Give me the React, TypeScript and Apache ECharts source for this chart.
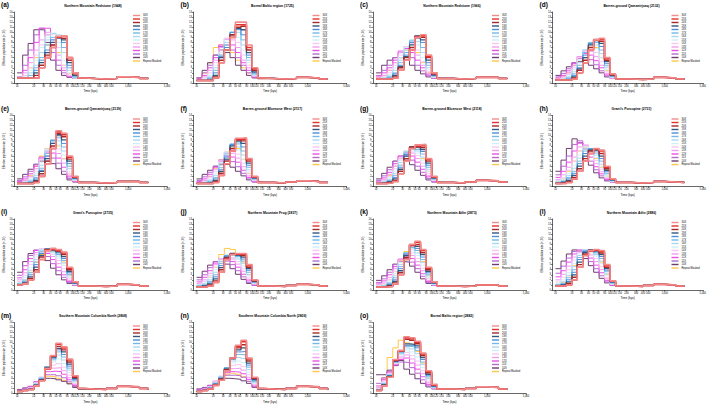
import React, { useEffect, useRef } from "react";
import * as echarts from "echarts";

const SERIES_NAMES = ["30X", "25X", "20X", "19X", "18X", "17X", "16X", "15X", "14X", "13X", "12X", "11X", "10X", "Repeat Masked"];
const COLORS = ["#f28b8b", "#e8302a", "#a52a2a", "#34577f", "#4a90d9", "#74b9e8", "#a8d8f0", "#cfeef8", "#f7c8f2", "#f29cf0", "#ec4fe8", "#b56ad0", "#6e3d6e", "#ffc84a"];
const WIDTHS = [1.6, 1.6, 1.4, 1.3, 1, 1, 1, 1, 1, 1, 1, 1, 1, 1];

const TIME_HEAD = [10, 12.6, 15.8, 20, 25, 31.6, 40, 50, 63, 79, 100, 126];
const TIME_TAIL = [160, 250, 400, 630, 1000, 1600, 2300];
const X_TICKS = [10, 20, 30, 40, 50, 60, 80, 100, 120, 150, 200, 300, 400, 500, 1000, 5000];

const PANEL_LABELS = ["(a)", "(b)", "(c)", "(d)", "(e)", "(f)", "(g)", "(h)", "(i)", "(j)", "(k)", "(l)", "(m)", "(n)", "(o)"];
const PANEL_TITLES = [
  "Northern Mountain Redstone (1948)",
  "Boreal Baltic region (1725)",
  "Northern Mountain Redstone (1966)",
  "Barren-ground Qamanirjuaq (2132)",
  "Barren-ground Qamanirjuaq (2139)",
  "Barren-ground Bluenose West (2117)",
  "Barren-ground Bluenose West (2118)",
  "Grant's Porcupine (2731)",
  "Grant's Porcupine (2735)",
  "Northern Mountain Frog (2837)",
  "Northern Mountain Atlin (2873)",
  "Northern Mountain Atlin (2886)",
  "Southern Mountain Columbia North (2808)",
  "Southern Mountain Columbia North (2809)",
  "Boreal Baltic region (2882)",
];

const NE_A = [
  [1, 1, 1, 1, 3, 5, 7, 9.2, 9.3, 5, 2, 1],
  [1, 1, 1, 1, 3, 5, 7, 9, 9.2, 5, 2, 1],
  [1, 1, 1, 1.5, 3.5, 5.5, 7.5, 9, 8.8, 4.5, 1.8, 1],
  [1, 1, 1, 2, 4, 6, 8, 9, 8.5, 4, 1.5, 0.9],
  [1, 1, 1, 2.5, 4.5, 6.5, 8.5, 8.8, 8, 3.5, 1.4, 0.9],
  [1, 1, 1.5, 3, 5, 7.5, 9, 8.8, 7, 3, 1.2, 0.9],
  [1, 1, 2, 3.5, 6, 8.5, 9.8, 9.5, 6, 2.5, 1.1, 0.9],
  [1, 1.2, 2.5, 4.5, 7, 9, 9.8, 8, 4.5, 2, 1, 0.9],
  [1, 1.5, 3, 5.5, 7.5, 9.5, 9.5, 7, 3.5, 1.6, 1, 0.9],
  [1, 2, 4, 6.5, 8.5, 10, 8.5, 5.5, 3, 1.4, 1, 0.9],
  [1, 2.5, 5, 8, 10.8, 10.8, 7.5, 4.5, 2.5, 1.3, 1, 0.9],
  [1.2, 3.5, 6.5, 9.5, 10.8, 9.5, 6, 3.5, 2, 1.2, 0.9, 0.9],
  [2, 5.5, 7.8, 10.5, 10.5, 8, 4.5, 2.5, 1.5, 1.1, 0.9, 0.9],
  [1, 1.5, 3, 5, 7, 7.5, 7, 6, 3.5, 1.8, 1, 0.9],
];
const NE_B = [
  [0.5, 0.5, 0.5, 1, 4, 6.5, 9, 12, 12, 7.5, 3, 1],
  [0.5, 0.5, 0.5, 1, 4, 6.5, 9, 11.5, 11.5, 7, 2.8, 1],
  [0.5, 0.5, 0.5, 1.2, 4.5, 6.5, 9.5, 11, 11.2, 6.5, 2.5, 0.9],
  [0.5, 0.5, 0.6, 1.5, 5, 6.5, 9.5, 10.8, 10.5, 6, 2.2, 0.9],
  [0.5, 0.5, 0.8, 2, 5.2, 7, 10, 10.6, 9.5, 5.5, 2, 0.9],
  [0.5, 0.5, 1, 2.5, 5.5, 7.5, 10, 10.5, 8.5, 5, 1.8, 0.9],
  [0.5, 0.6, 1.2, 3, 5.5, 8, 10, 10, 7.5, 4.5, 1.6, 0.9],
  [0.5, 0.8, 1.5, 3.5, 6, 8.5, 9.5, 9, 6.5, 4, 1.5, 0.9],
  [0.5, 1, 2, 4, 6.5, 8.8, 9, 8, 5.5, 3.5, 1.4, 0.9],
  [0.6, 1.2, 2.5, 4.5, 7, 8.8, 8.5, 7, 4.5, 3, 1.3, 0.9],
  [0.8, 1.5, 3, 5, 7.5, 8.6, 7.5, 6, 4, 2.5, 1.2, 0.9],
  [1, 2, 3.5, 5.5, 7.2, 7.5, 6.5, 5, 3.5, 2, 1.1, 0.9],
  [1, 2.5, 4, 5.5, 6.5, 6, 5, 3.5, 2.5, 1.5, 1, 0.9],
  [1, 2, 4, 7, 7.5, 7, 6, 4.5, 3, 2, 1.1, 0.9],
];
const NE_C = [
  [0.8, 0.8, 0.8, 1, 2.5, 4.5, 6.5, 9, 9.5, 5.5, 2, 0.9],
  [0.8, 0.8, 0.8, 1, 2.5, 4.5, 6.5, 9, 9.3, 5.2, 1.9, 0.9],
  [0.8, 0.8, 0.8, 1.2, 3, 5, 7, 9.2, 9, 5, 1.8, 0.9],
  [0.8, 0.8, 0.9, 1.5, 3.2, 5.2, 7.5, 9.3, 8.5, 4.5, 1.6, 0.9],
  [0.8, 0.8, 1, 1.8, 3.5, 5.5, 8, 9.2, 8, 4, 1.5, 0.9],
  [0.8, 0.9, 1.2, 2, 4, 6, 8.3, 8.8, 7, 3.5, 1.4, 0.9],
  [0.8, 1, 1.4, 2.5, 4.5, 6.5, 8.5, 8.2, 6, 3, 1.3, 0.9],
  [0.8, 1.1, 1.6, 3, 5, 7, 8.2, 7.5, 5, 2.6, 1.2, 0.9],
  [0.9, 1.2, 2, 3.5, 5.5, 7.2, 7.8, 6.5, 4.2, 2.2, 1.1, 0.9],
  [1, 1.5, 2.5, 4, 6, 7.2, 7, 5.5, 3.5, 1.9, 1, 0.9],
  [1.2, 2, 3, 4.5, 6.3, 6.8, 6, 4.5, 3, 1.6, 1, 0.9],
  [1.5, 2.5, 3.5, 5, 6, 6, 5, 3.5, 2.4, 1.4, 1, 0.9],
  [2, 3.5, 4.5, 5, 5, 4.5, 3.5, 2.5, 1.8, 1.2, 0.9, 0.9],
  [1, 1.5, 2.5, 4, 6, 6.5, 6.5, 6, 4, 2, 1.1, 0.9],
];
const NE_D = [
  [0.6, 0.6, 0.6, 0.8, 2, 4, 6.5, 8.5, 8.8, 5, 1.8, 0.8],
  [0.6, 0.6, 0.6, 0.8, 2, 4, 6.5, 8.5, 8.6, 4.8, 1.7, 0.8],
  [0.6, 0.6, 0.6, 1, 2.5, 4.5, 7, 8.6, 8.2, 4.5, 1.6, 0.8],
  [0.6, 0.6, 0.7, 1.2, 2.8, 5, 7.5, 8.5, 7.8, 4.2, 1.5, 0.8],
  [0.6, 0.6, 0.8, 1.5, 3, 5.5, 7.8, 8.3, 7.2, 3.8, 1.4, 0.8],
  [0.6, 0.7, 1, 1.8, 3.5, 6, 8, 8, 6.5, 3.4, 1.3, 0.8],
  [0.6, 0.8, 1.2, 2.2, 4, 6.5, 7.8, 7.5, 5.8, 3, 1.2, 0.8],
  [0.6, 0.9, 1.4, 2.6, 4.5, 6.6, 7.5, 6.8, 5, 2.6, 1.1, 0.8],
  [0.7, 1, 1.7, 3, 5, 6.6, 7, 6, 4.2, 2.2, 1, 0.8],
  [0.8, 1.2, 2, 3.4, 5.2, 6.3, 6.2, 5.2, 3.5, 1.9, 1, 0.8],
  [1, 1.5, 2.4, 3.8, 5.2, 5.8, 5.5, 4.4, 3, 1.6, 0.9, 0.8],
  [1.2, 1.9, 2.8, 4, 4.8, 5, 4.6, 3.6, 2.4, 1.4, 0.9, 0.8],
  [1.5, 2.4, 3.2, 4, 4.2, 4, 3.5, 2.8, 2, 1.2, 0.9, 0.8],
  [0.8, 1.2, 2, 3.5, 5, 6.5, 7.5, 7, 5, 2.5, 1.1, 0.8],
];
const NE_E = [
  [0.6, 0.6, 0.6, 0.8, 2, 4.5, 7.5, 11, 10.5, 6, 2, 0.8],
  [0.6, 0.6, 0.6, 0.8, 2, 4.5, 7.5, 10.8, 10.2, 5.8, 1.9, 0.8],
  [0.6, 0.6, 0.6, 1, 2.5, 5, 8, 10.5, 9.8, 5.4, 1.8, 0.8],
  [0.6, 0.6, 0.7, 1.2, 3, 5.5, 8.5, 10.2, 9.2, 5, 1.7, 0.8],
  [0.6, 0.6, 0.8, 1.5, 3.2, 6, 9, 10, 8.5, 4.5, 1.6, 0.8],
  [0.6, 0.7, 1, 1.8, 3.6, 6.5, 9.2, 9.6, 7.8, 4, 1.5, 0.8],
  [0.6, 0.8, 1.2, 2.2, 4.2, 7, 9, 9, 7, 3.5, 1.4, 0.8],
  [0.6, 0.9, 1.4, 2.6, 4.8, 7.3, 8.6, 8.2, 6.2, 3, 1.3, 0.8],
  [0.7, 1, 1.7, 3, 5.3, 7.4, 8, 7.4, 5.4, 2.6, 1.2, 0.8],
  [0.8, 1.2, 2, 3.5, 5.6, 7.2, 7.4, 6.5, 4.6, 2.2, 1.1, 0.8],
  [1, 1.5, 2.5, 4, 5.8, 6.8, 6.6, 5.6, 3.8, 1.9, 1, 0.8],
  [1.2, 1.9, 3, 4.3, 5.6, 6, 5.6, 4.6, 3, 1.6, 0.9, 0.8],
  [1.5, 2.4, 3.4, 4.4, 5, 5, 4.5, 3.5, 2.4, 1.3, 0.9, 0.8],
  [0.8, 1.2, 2.2, 4, 6, 7.5, 8.5, 8, 5.5, 2.5, 1.1, 0.8],
];
const NE_F = [
  [0.6, 0.6, 0.6, 0.8, 2.2, 4.5, 7, 9.5, 9.6, 5.5, 2, 0.8],
  [0.6, 0.6, 0.6, 0.8, 2.2, 4.5, 7, 9.3, 9.4, 5.3, 1.9, 0.8],
  [0.6, 0.6, 0.6, 1, 2.6, 5, 7.5, 9.2, 9, 5, 1.8, 0.8],
  [0.6, 0.6, 0.7, 1.2, 3, 5.4, 8, 9, 8.5, 4.6, 1.7, 0.8],
  [0.6, 0.6, 0.8, 1.5, 3.3, 5.8, 8.3, 8.8, 7.8, 4.2, 1.6, 0.8],
  [0.6, 0.7, 1, 1.8, 3.7, 6.2, 8.4, 8.4, 7, 3.8, 1.5, 0.8],
  [0.6, 0.8, 1.2, 2.2, 4.2, 6.6, 8.2, 7.8, 6.2, 3.3, 1.4, 0.8],
  [0.6, 0.9, 1.4, 2.6, 4.7, 6.8, 7.8, 7.2, 5.4, 2.9, 1.3, 0.8],
  [0.7, 1, 1.7, 3, 5, 6.8, 7.3, 6.4, 4.6, 2.5, 1.2, 0.8],
  [0.8, 1.2, 2, 3.4, 5.2, 6.5, 6.6, 5.6, 3.9, 2.1, 1.1, 0.8],
  [1, 1.5, 2.4, 3.8, 5.2, 6, 5.8, 4.8, 3.2, 1.8, 1, 0.8],
  [1.2, 1.9, 2.8, 4, 4.9, 5.2, 4.9, 3.9, 2.6, 1.5, 0.9, 0.8],
  [1.5, 2.4, 3.2, 4, 4.4, 4.3, 3.8, 3, 2.1, 1.3, 0.9, 0.8],
  [0.8, 1.2, 2, 3.6, 5.3, 6.8, 7.8, 7.5, 5.3, 2.6, 1.1, 0.8],
];
const NE_G = [
  [0.6, 0.6, 0.7, 1, 2.5, 5, 7.5, 8.2, 8.3, 5.5, 2, 0.8],
  [0.6, 0.6, 0.7, 1, 2.5, 5, 7.5, 8, 8.1, 5.3, 1.9, 0.8],
  [0.6, 0.6, 0.8, 1.2, 3, 5.5, 7.8, 7.9, 7.7, 5, 1.8, 0.8],
  [0.6, 0.7, 0.9, 1.5, 3.4, 6, 7.8, 7.8, 7.3, 4.6, 1.7, 0.8],
  [0.6, 0.7, 1, 1.8, 3.8, 6.3, 7.7, 7.6, 6.9, 4.2, 1.6, 0.8],
  [0.6, 0.8, 1.2, 2.2, 4.2, 6.6, 7.6, 7.3, 6.4, 3.8, 1.5, 0.8],
  [0.7, 0.9, 1.4, 2.6, 4.7, 6.9, 7.5, 7, 5.8, 3.4, 1.4, 0.8],
  [0.7, 1, 1.7, 3, 5.1, 7, 7.3, 6.6, 5.2, 3, 1.3, 0.8],
  [0.8, 1.2, 2, 3.5, 5.5, 7, 7, 6.1, 4.6, 2.6, 1.2, 0.8],
  [0.9, 1.4, 2.4, 4, 5.8, 6.8, 6.6, 5.5, 4, 2.2, 1.1, 0.8],
  [1, 1.7, 2.8, 4.5, 6, 6.6, 6, 4.8, 3.4, 1.9, 1, 0.8],
  [1.2, 2.1, 3.3, 5, 6, 6, 5.2, 4, 2.8, 1.6, 0.9, 0.8],
  [1.5, 2.6, 3.8, 5, 5.5, 5.2, 4.3, 3.2, 2.2, 1.3, 0.9, 0.8],
  [0.8, 1.2, 2.2, 4, 6, 7, 7.5, 7.3, 5.5, 3, 1.2, 0.8],
];
const NE_H = [
  [0.6, 0.6, 0.8, 1.5, 3, 5, 6.5, 7.5, 7.2, 4, 1.5, 0.8],
  [0.6, 0.6, 0.8, 1.5, 3, 5, 6.5, 7.4, 7, 3.8, 1.5, 0.8],
  [0.6, 0.7, 1, 1.8, 3.5, 5.5, 7, 7.4, 6.5, 3.5, 1.4, 0.8],
  [0.6, 0.8, 1.2, 2.2, 4, 6, 7.2, 7.2, 6, 3.2, 1.3, 0.8],
  [0.7, 0.9, 1.5, 2.6, 4.5, 6.5, 7.4, 7, 5.5, 2.9, 1.2, 0.8],
  [0.8, 1, 1.8, 3, 5, 7, 7.5, 6.6, 5, 2.6, 1.2, 0.8],
  [0.9, 1.2, 2.2, 3.6, 5.6, 7.4, 7.4, 6.2, 4.4, 2.3, 1.1, 0.8],
  [1, 1.5, 2.6, 4.2, 6.2, 7.8, 7.2, 5.7, 3.9, 2, 1, 0.8],
  [1.2, 1.8, 3.2, 5, 7, 8, 6.8, 5.1, 3.4, 1.8, 1, 0.8],
  [1.4, 2.3, 3.8, 5.8, 7.8, 8.2, 6.4, 4.5, 2.9, 1.6, 0.9, 0.8],
  [1.8, 3, 4.8, 7, 8.6, 8, 5.8, 3.9, 2.5, 1.4, 0.9, 0.8],
  [2.3, 4, 6, 8.3, 9, 7.4, 5, 3.3, 2.1, 1.2, 0.9, 0.8],
  [3, 5.2, 7.5, 9.4, 8.6, 6.5, 4.2, 2.7, 1.7, 1.1, 0.9, 0.8],
  [1, 1.5, 3, 5, 7, 7.6, 7, 5.5, 3.8, 2, 1, 0.8],
];
const NE_I = [
  [1, 1.2, 2, 3.5, 6, 7.8, 8.2, 8, 7.5, 4.5, 1.6, 0.8],
  [1, 1.2, 2, 3.5, 6, 7.8, 8, 7.8, 7.3, 4.3, 1.6, 0.8],
  [1, 1.3, 2.3, 4, 6.5, 8, 8, 7.7, 7, 4, 1.5, 0.8],
  [1, 1.4, 2.6, 4.5, 6.8, 8, 7.9, 7.5, 6.6, 3.7, 1.4, 0.8],
  [1.1, 1.6, 3, 5, 7.2, 8.1, 7.8, 7.3, 6.2, 3.4, 1.3, 0.8],
  [1.2, 1.8, 3.4, 5.5, 7.5, 8.1, 7.7, 7, 5.8, 3.1, 1.3, 0.8],
  [1.3, 2.1, 3.9, 6, 7.8, 8, 7.5, 6.7, 5.3, 2.8, 1.2, 0.8],
  [1.5, 2.5, 4.4, 6.5, 8, 7.9, 7.3, 6.3, 4.8, 2.5, 1.1, 0.8],
  [1.7, 2.9, 5, 7, 8.1, 7.7, 7, 5.8, 4.2, 2.2, 1.1, 0.8],
  [2, 3.4, 5.6, 7.4, 8.1, 7.5, 6.6, 5.2, 3.6, 1.9, 1, 0.8],
  [2.4, 4, 6.2, 7.8, 8, 7.2, 6, 4.5, 3, 1.7, 1, 0.8],
  [2.9, 4.8, 6.8, 7.9, 7.7, 6.6, 5.2, 3.8, 2.5, 1.5, 0.9, 0.8],
  [3.5, 5.6, 7.2, 7.8, 7.2, 5.8, 4.3, 3, 2, 1.3, 0.9, 0.8],
  [1.2, 2, 3.5, 5.5, 7, 7.6, 7.6, 7, 5.5, 3, 1.2, 0.8],
];
const NE_J = [
  [0.6, 0.6, 0.8, 1.5, 3.5, 6, 7, 7.2, 7.2, 5, 2, 0.8],
  [0.6, 0.6, 0.8, 1.5, 3.5, 6, 7, 7.1, 7, 4.8, 1.9, 0.8],
  [0.6, 0.7, 1, 1.8, 4, 6.3, 7.1, 7, 6.8, 4.5, 1.8, 0.8],
  [0.6, 0.8, 1.2, 2.2, 4.4, 6.5, 7.2, 6.9, 6.5, 4.2, 1.7, 0.8],
  [0.7, 0.9, 1.4, 2.6, 4.8, 6.7, 7.1, 6.8, 6.1, 3.9, 1.6, 0.8],
  [0.8, 1, 1.7, 3, 5.2, 6.8, 7, 6.6, 5.7, 3.5, 1.5, 0.8],
  [0.9, 1.2, 2, 3.5, 5.6, 6.9, 6.9, 6.3, 5.2, 3.1, 1.4, 0.8],
  [1, 1.4, 2.4, 4, 5.9, 6.8, 6.7, 6, 4.7, 2.8, 1.3, 0.8],
  [1.1, 1.7, 2.8, 4.5, 6.1, 6.7, 6.4, 5.6, 4.2, 2.4, 1.2, 0.8],
  [1.3, 2, 3.3, 5, 6.2, 6.5, 6.1, 5.1, 3.7, 2.1, 1.1, 0.8],
  [1.6, 2.5, 3.8, 5.3, 6.2, 6.2, 5.6, 4.5, 3.1, 1.8, 1, 0.8],
  [2, 3, 4.4, 5.6, 6, 5.7, 5, 3.8, 2.6, 1.5, 0.9, 0.8],
  [2.5, 3.7, 4.9, 5.6, 5.6, 5.1, 4.2, 3.1, 2.1, 1.3, 0.9, 0.8],
  [0.8, 1.2, 2.5, 4.5, 7, 8.2, 8, 7, 5.5, 3, 1.2, 0.8],
];
const NE_K = [
  [0.6, 0.6, 0.7, 1.2, 3, 6, 9, 9.6, 8, 4.5, 1.6, 0.8],
  [0.6, 0.6, 0.7, 1.2, 3, 6, 8.8, 9.4, 7.8, 4.3, 1.6, 0.8],
  [0.6, 0.6, 0.8, 1.4, 3.4, 6.4, 8.9, 9, 7.4, 4, 1.5, 0.8],
  [0.6, 0.7, 0.9, 1.7, 3.8, 6.8, 8.8, 8.6, 7, 3.7, 1.4, 0.8],
  [0.6, 0.7, 1.1, 2, 4.2, 7.1, 8.7, 8.2, 6.5, 3.4, 1.3, 0.8],
  [0.7, 0.8, 1.3, 2.4, 4.6, 7.3, 8.4, 7.8, 6, 3.1, 1.3, 0.8],
  [0.7, 0.9, 1.5, 2.8, 5, 7.4, 8.1, 7.3, 5.4, 2.8, 1.2, 0.8],
  [0.8, 1, 1.8, 3.2, 5.4, 7.4, 7.7, 6.8, 4.9, 2.5, 1.1, 0.8],
  [0.9, 1.2, 2.1, 3.7, 5.7, 7.3, 7.3, 6.2, 4.3, 2.2, 1.1, 0.8],
  [1, 1.4, 2.5, 4.2, 6, 7.1, 6.8, 5.6, 3.8, 1.9, 1, 0.8],
  [1.2, 1.8, 3, 4.6, 6.1, 6.7, 6.2, 4.9, 3.2, 1.7, 1, 0.8],
  [1.5, 2.2, 3.5, 5, 6, 6.2, 5.5, 4.2, 2.7, 1.5, 0.9, 0.8],
  [1.9, 2.8, 4, 5.1, 5.6, 5.5, 4.7, 3.5, 2.2, 1.3, 0.9, 0.8],
  [0.8, 1.1, 2, 3.6, 5.8, 7.6, 8.4, 7.8, 5.6, 2.8, 1.1, 0.8],
];
const NE_L = [
  [0.8, 0.8, 1, 2, 4.5, 6.8, 7.8, 8, 7.8, 5, 1.8, 0.8],
  [0.8, 0.8, 1, 2, 4.5, 6.8, 7.7, 7.9, 7.6, 4.8, 1.8, 0.8],
  [0.8, 0.9, 1.3, 2.5, 5, 7.1, 7.8, 7.8, 7.3, 4.5, 1.7, 0.8],
  [0.8, 1, 1.6, 3, 5.5, 7.4, 7.9, 7.7, 7, 4.2, 1.6, 0.8],
  [0.9, 1.1, 2, 3.5, 6, 7.6, 7.9, 7.5, 6.6, 3.9, 1.5, 0.8],
  [1, 1.3, 2.4, 4, 6.4, 7.8, 7.9, 7.3, 6.2, 3.6, 1.4, 0.8],
  [1.1, 1.6, 2.9, 4.6, 6.8, 7.9, 7.8, 7, 5.7, 3.2, 1.3, 0.8],
  [1.3, 2, 3.4, 5.2, 7.1, 7.9, 7.6, 6.7, 5.2, 2.9, 1.2, 0.8],
  [1.6, 2.5, 4, 5.9, 7.4, 7.9, 7.3, 6.2, 4.6, 2.5, 1.1, 0.8],
  [2, 3.1, 4.7, 6.5, 7.7, 7.7, 6.9, 5.6, 4, 2.2, 1.1, 0.8],
  [2.6, 3.8, 5.5, 7.1, 7.9, 7.4, 6.3, 4.9, 3.4, 1.9, 1, 0.8],
  [3.3, 4.7, 6.3, 7.6, 7.8, 6.9, 5.6, 4.2, 2.8, 1.6, 0.9, 0.8],
  [4.2, 5.7, 7.1, 7.9, 7.5, 6.2, 4.8, 3.5, 2.3, 1.4, 0.9, 0.8],
  [1, 1.5, 2.8, 4.8, 6.8, 7.8, 7.8, 7, 5.5, 3, 1.2, 0.8],
];
const NE_M = [
  [0.4, 0.6, 0.8, 1.5, 2.5, 4.9, 7.5, 9.9, 9.2, 6.8, 3.5, 1],
  [0.4, 0.6, 0.8, 1.5, 2.5, 4.8, 7.4, 9.7, 9, 6.6, 3.4, 1],
  [0.4, 0.6, 0.8, 1.6, 2.6, 5, 7.4, 9.3, 8.6, 6.2, 3.2, 1],
  [0.4, 0.6, 0.8, 1.6, 2.7, 5, 7.2, 8.9, 8.2, 5.8, 3, 0.9],
  [0.4, 0.6, 0.9, 1.7, 2.8, 5.2, 7, 8.6, 7.7, 5.4, 2.8, 0.9],
  [0.4, 0.6, 0.9, 1.8, 3, 5.3, 6.8, 8.2, 7.2, 5, 2.6, 0.9],
  [0.4, 0.7, 1, 1.9, 3.1, 5.3, 6.6, 7.6, 6.6, 4.6, 2.4, 0.9],
  [0.4, 0.7, 1, 2, 3.2, 5.2, 6.2, 6.8, 5.9, 4.1, 2.2, 0.9],
  [0.5, 0.8, 1.1, 2.1, 3.2, 5, 5.6, 5.9, 5.2, 3.6, 2, 0.9],
  [0.5, 0.8, 1.2, 2.2, 3.2, 4.7, 5, 5.1, 4.5, 3.1, 1.8, 0.9],
  [0.6, 0.9, 1.3, 2.3, 3.1, 4.3, 4.4, 4.3, 3.8, 2.7, 1.6, 0.9],
  [0.7, 1, 1.4, 2.3, 3, 3.7, 3.7, 3.5, 3.1, 2.3, 1.4, 0.9],
  [0.8, 1.1, 1.4, 2.2, 2.7, 3, 2.9, 2.7, 2.4, 1.9, 1.2, 0.9],
  [0.5, 0.8, 1.2, 2.2, 3, 3.4, 3.3, 3, 2.6, 2, 1.3, 0.9],
];
const NE_N = [
  [0.4, 0.6, 0.9, 1.6, 2.6, 4.5, 7, 9.5, 10.5, 7, 3.2, 1],
  [0.4, 0.6, 0.9, 1.6, 2.6, 4.5, 6.9, 9.3, 10.2, 6.8, 3.1, 1],
  [0.4, 0.6, 0.9, 1.7, 2.8, 4.7, 7, 9, 9.6, 6.4, 3, 1],
  [0.4, 0.6, 1, 1.8, 2.9, 4.8, 7, 8.6, 9, 6, 2.8, 0.9],
  [0.4, 0.7, 1, 1.9, 3, 5, 6.9, 8.2, 8.3, 5.6, 2.6, 0.9],
  [0.4, 0.7, 1.1, 2, 3.2, 5.1, 6.7, 7.7, 7.6, 5.2, 2.4, 0.9],
  [0.5, 0.7, 1.1, 2.1, 3.3, 5.1, 6.4, 7.1, 6.9, 4.7, 2.2, 0.9],
  [0.5, 0.8, 1.2, 2.2, 3.4, 5, 6, 6.4, 6.1, 4.2, 2, 0.9],
  [0.5, 0.8, 1.3, 2.3, 3.4, 4.8, 5.5, 5.7, 5.3, 3.7, 1.9, 0.9],
  [0.6, 0.9, 1.4, 2.4, 3.4, 4.5, 4.9, 5, 4.6, 3.2, 1.7, 0.9],
  [0.7, 1, 1.5, 2.4, 3.3, 4.1, 4.3, 4.2, 3.9, 2.8, 1.5, 0.9],
  [0.8, 1.1, 1.6, 2.4, 3.1, 3.6, 3.6, 3.5, 3.2, 2.4, 1.3, 0.9],
  [0.9, 1.2, 1.6, 2.3, 2.8, 3, 2.9, 2.8, 2.5, 2, 1.2, 0.9],
  [0.5, 0.8, 1.3, 2.3, 3.2, 3.8, 4, 3.8, 3.3, 2.4, 1.3, 0.9],
];
const NE_O = [
  [0.6, 1.5, 3.2, 6.7, 8.5, 11.2, 11, 10.3, 8, 4.5, 1.8, 0.9],
  [0.6, 1.5, 3.2, 6.6, 8.4, 11, 10.8, 10.1, 7.8, 4.3, 1.7, 0.9],
  [0.6, 1.6, 3.3, 6.5, 8.4, 10.7, 10.5, 9.8, 7.5, 4.1, 1.6, 0.9],
  [0.6, 1.7, 3.4, 6.4, 8.3, 9.8, 9.7, 9.4, 7.1, 3.8, 1.5, 0.9],
  [0.6, 1.8, 3.5, 6.3, 8.2, 9.5, 9.5, 9, 6.7, 3.6, 1.4, 0.9],
  [0.7, 1.9, 3.6, 6.2, 8, 9.3, 9.2, 8.5, 6.2, 3.3, 1.3, 0.9],
  [0.8, 2, 3.7, 6.1, 7.8, 9, 8.8, 7.9, 5.7, 3, 1.3, 0.9],
  [0.9, 2.1, 3.8, 6, 7.6, 8.6, 8.2, 7.2, 5.1, 2.7, 1.2, 0.9],
  [1, 2.3, 3.9, 5.9, 7.3, 8.1, 7.5, 6.4, 4.5, 2.4, 1.1, 0.9],
  [1.2, 2.5, 4, 5.8, 7, 7.6, 6.8, 5.6, 3.9, 2.1, 1.1, 0.9],
  [1.5, 2.8, 4.2, 5.7, 6.7, 7, 6, 4.8, 3.3, 1.8, 1, 0.9],
  [2, 3.1, 4.4, 5.6, 6.2, 6.1, 5.1, 4, 2.7, 1.5, 1, 0.9],
  [3.7, 3.7, 4.6, 5.5, 6.5, 4.8, 3.8, 2.9, 2, 1.3, 0.9, 0.9],
  [1, 3, 7.1, 9, 10.5, 10, 9.3, 8.3, 6, 3, 1.3, 0.9],
];

const TAIL_A = [0.9, 0.8, 0.9, 1.2, 1.1, 0.9, 0.8];
const TAIL_B = [0.9, 0.8, 0.9, 1.1, 1, 0.8, 0.7];
const TAIL_C = [0.9, 0.8, 0.9, 1.1, 1.1, 0.9, 0.8];
const TAIL_D = [0.8, 0.7, 0.8, 1.1, 1, 0.8, 0.7];
const TAIL_E = [0.8, 0.7, 0.8, 1, 1, 0.8, 0.7];
const TAIL_F = [0.8, 0.7, 0.9, 1.1, 1, 0.8, 0.7];
const TAIL_G = [0.8, 0.7, 0.9, 1.2, 1.1, 0.9, 0.8];
const TAIL_H = [0.8, 0.7, 0.8, 1, 0.9, 0.8, 0.7];
const TAIL_I = [0.8, 0.7, 0.8, 1.1, 1, 0.8, 0.7];
const TAIL_J = [0.8, 0.7, 0.9, 1.1, 1, 0.8, 0.7];
const TAIL_K = [0.8, 0.7, 0.8, 1, 1, 0.8, 0.7];
const TAIL_L = [0.8, 0.7, 0.9, 1.1, 1, 0.8, 0.7];
const TAIL_M = [0.9, 0.8, 1, 1.4, 1.3, 1, 0.8];
const TAIL_N = [0.9, 0.8, 1, 1.4, 1.3, 1, 0.8];
const TAIL_O = [0.9, 0.8, 1, 1.3, 1.2, 0.9, 0.8];

const PANELS = [NE_A, NE_B, NE_C, NE_D, NE_E, NE_F, NE_G, NE_H, NE_I, NE_J, NE_K, NE_L, NE_M, NE_N, NE_O];
const TAILS = [TAIL_A, TAIL_B, TAIL_C, TAIL_D, TAIL_E, TAIL_F, TAIL_G, TAIL_H, TAIL_I, TAIL_J, TAIL_K, TAIL_L, TAIL_M, TAIL_N, TAIL_O];

const FONT = "Liberation Sans, Arial, sans-serif";

export default function App() {
  const ref = useRef<HTMLDivElement>(null);
  useEffect(() => {
    if (!ref.current) return;
    const chart = echarts.init(ref.current, undefined, { renderer: "svg" });
    const grids: any[] = [];
    const xAxes: any[] = [];
    const yAxes: any[] = [];
    const legends: any[] = [];
    const series: any[] = [];
    const graphics: any[] = [];
    const axisLine = { show: true, lineStyle: { color: "#000", width: 0.6 } };
    const tickStyle = { color: "#000", width: 0.5 };
    PANELS.forEach((panel, p) => {
      const col = p % 4;
      const row = Math.floor(p / 4);
      const x0 = col * 179.5;
      const y0 = row * 103.5;
      grids.push({ left: x0 + 14, top: y0 + 12, width: 153, height: 71 });
      xAxes.push({
        gridIndex: p,
        type: "log",
        logBase: 10,
        min: 8.8,
        max: 5000,
        axisLine,
        axisTick: { show: true, customValues: X_TICKS, length: 1.5, lineStyle: tickStyle },
        axisLabel: { customValues: X_TICKS, fontSize: 2.6, margin: 1.5, color: "#000", fontFamily: FONT },
        minorTick: { show: false },
        splitLine: { show: false },
        name: "Time (kya)",
        nameLocation: "middle",
        nameGap: 6.5,
        nameTextStyle: { fontSize: 3, color: "#000", fontFamily: FONT },
      });
      yAxes.push({
        gridIndex: p,
        type: "value",
        min: 0,
        max: 14,
        interval: 1,
        axisLine,
        axisTick: { show: true, length: 1.5, lineStyle: tickStyle },
        axisLabel: { fontSize: 2.6, margin: 1.5, color: "#000", fontFamily: FONT },
        splitLine: { show: false },
        name: "Effective population size (×10⁴)",
        nameLocation: "middle",
        nameGap: 6.5,
        nameRotate: 90,
        nameTextStyle: { fontSize: 2.6, color: "#000", fontFamily: FONT },
      });
      legends.push({
        left: x0 + 133,
        top: y0 + 14,
        orient: "vertical",
        padding: 0,
        itemWidth: 7,
        itemHeight: 1.4,
        itemGap: 0.5,
        icon: "rect",
        selectedMode: false,
        data: SERIES_NAMES,
        textStyle: { fontSize: 2.6, lineHeight: 2.7, color: "#000", padding: [0, 0, 0, -2], fontFamily: FONT },
      });
      graphics.push({
        type: "text",
        left: x0 + 1,
        top: y0 + 1,
        style: { text: PANEL_LABELS[p], fontSize: 6.5, fontWeight: "bold", fill: "#000", fontFamily: FONT },
      });
      graphics.push({
        type: "text",
        x: x0 + 93,
        y: y0 + 4,
        style: { text: PANEL_TITLES[p], fontSize: 3.4, fontWeight: "bold", fill: "#000", textAlign: "center", fontFamily: FONT },
      });
      for (let s = SERIES_NAMES.length - 1; s >= 0; s--) {
        const head = panel[s].map((v, i) => [TIME_HEAD[i], v]);
        const tail = TAILS[p].map((v, i) => [TIME_TAIL[i], v]);
        series.push({
          type: "line",
          name: SERIES_NAMES[s],
          xAxisIndex: p,
          yAxisIndex: p,
          data: head.concat(tail),
          step: "end",
          symbol: "none",
          showSymbol: false,
          lineStyle: { color: COLORS[s], width: WIDTHS[s] },
          itemStyle: { color: COLORS[s] },
          emphasis: { disabled: true },
        });
      }
    });
    chart.setOption({
      animation: false,
      backgroundColor: "#fff",
      textStyle: { fontFamily: FONT },
      grid: grids,
      xAxis: xAxes,
      yAxis: yAxes,
      legend: legends,
      series,
      graphic: graphics,
    });
    return () => chart.dispose();
  }, []);
  return <div ref={ref} style={{ position: "absolute", left: 0, top: 0, width: 709, height: 408, background: "#fff" }} />;
}
